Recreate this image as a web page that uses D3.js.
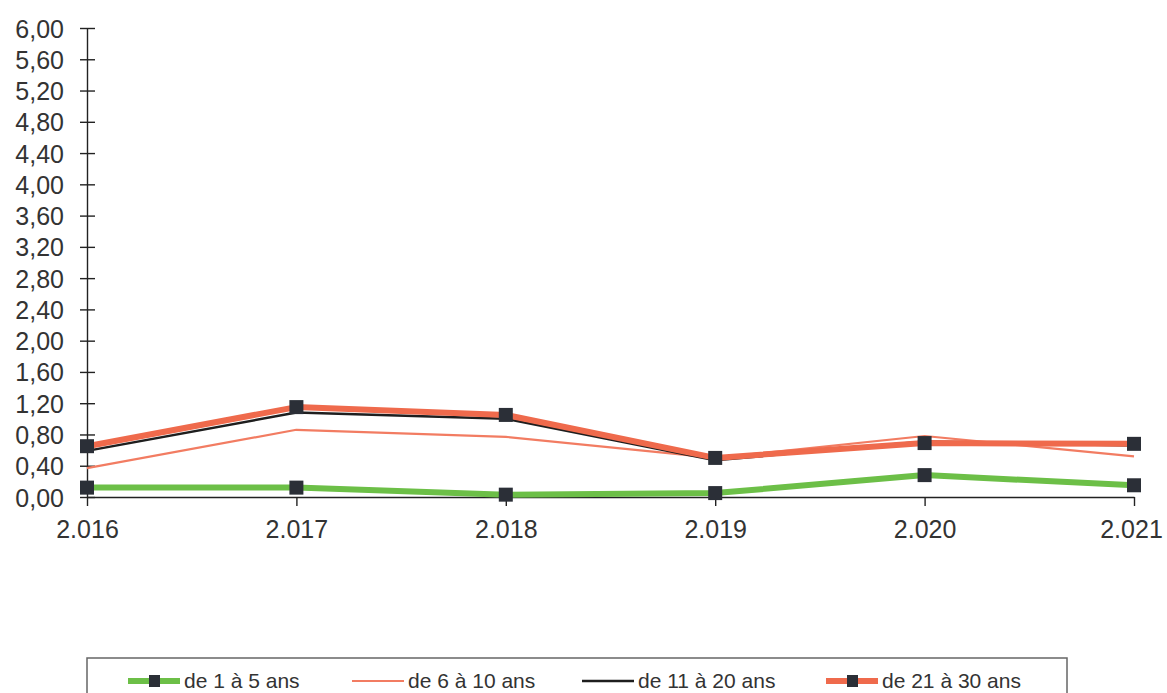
<!DOCTYPE html>
<html><head><meta charset="utf-8">
<script src="https://cdn.jsdelivr.net/npm/d3@7"></script>
<style>body{margin:0;background:#fff}svg{display:block}text{font-family:"Liberation Sans",Arial,sans-serif;fill:#333}</style>
</head><body><svg id="c" width="1167" height="693"></svg>
<script>
const years = ["2.016","2.017","2.018","2.019","2.020","2.021"];
const yTicks = [0,0.4,0.8,1.2,1.6,2.0,2.4,2.8,3.2,3.6,4.0,4.4,4.8,5.2,5.6,6.0];
const s1to5   = [0.12,0.12,0.03,0.05,0.28,0.15];
const s6to10  = [0.37,0.86,0.77,0.50,0.78,0.52];
const s11to20 = [0.59,1.08,1.00,0.47,0.71,0.66];
const s21to30 = [0.65,1.15,1.05,0.50,0.69,0.68];
const names = ["de 1 à 5 ans","de 6 à 10 ans","de 11 à 20 ans","de 21 à 30 ans"];

const series = [
  {name:names[0], values:s1to5,   color:"#6cbf47", width:6,   marker:true},
  {name:names[1], values:s6to10,  color:"#f27c62", width:2.2, marker:false},
  {name:names[2], values:s11to20, color:"#1e1e1e", width:2.5, marker:false},
  {name:names[3], values:s21to30, color:"#ef6a4c", width:6,   marker:true}
];

const svg = d3.select("#c");
const x = d3.scalePoint().domain(years).range([87,1134]);
const y = d3.scaleLinear().domain([0,6]).range([497,28]);

// y axis
const ya = svg.append("g").attr("transform","translate(87,0)")
  .call(d3.axisLeft(y).tickValues(yTicks).tickSize(7).tickSizeOuter(0)
    .tickFormat(d=>d3.format(".2f")(d).replace(".",",")));
ya.select(".domain").attr("stroke","#222").attr("stroke-width",1.4);
ya.selectAll(".tick line").attr("x2",-7).attr("x1",8).attr("stroke","#222").attr("stroke-width",1.4);
ya.selectAll(".tick text").attr("x",-23).attr("dy","0.36em").style("font-size","25px")
  .style("font-family",'"Liberation Sans",Arial,sans-serif').attr("fill","#333");

// x axis
const xa = svg.append("g").attr("transform","translate(0,497)")
  .call(d3.axisBottom(x).tickSize(9).tickSizeOuter(0));
xa.select(".domain").attr("stroke","#222").attr("stroke-width",1.4);
xa.selectAll(".tick line").attr("stroke","#222").attr("stroke-width",1.4);
xa.selectAll(".tick text").attr("y",41).attr("dy",0).style("font-size","25px")
  .style("font-family",'"Liberation Sans",Arial,sans-serif').attr("fill","#333");
xa.selectAll(".tick").filter((d,i)=>i===5).select("text").attr("text-anchor","middle").attr("dx",-3);

const line = d3.line().x((d,i)=>x(years[i])).y(d=>y(d));
series.forEach(s=>{
  svg.append("path").datum(s.values).attr("d",line).attr("fill","none")
    .attr("stroke",s.color).attr("stroke-width",s.width).attr("stroke-linejoin","round");
});
series.forEach(s=>{
  if(!s.marker) return;
  svg.selectAll(null).data(s.values).enter().append("rect")
    .attr("x",(d,i)=>x(years[i])-7).attr("y",d=>y(d)-7)
    .attr("width",14).attr("height",14).attr("fill","#2b2f37");
});

// legend
const lg = svg.append("g");
lg.append("rect").attr("x",87).attr("y",658).attr("width",980).attr("height",60)
  .attr("fill","none").attr("stroke","#666").attr("stroke-width",1.5);
const lx = [128,352,582,826];
series.forEach((s,i)=>{
  const g = lg.append("g").attr("transform",`translate(${lx[i]},681)`);
  g.append("line").attr("x1",0).attr("x2",52).attr("y1",0).attr("y2",0)
    .attr("stroke",s.color).attr("stroke-width",s.width);
  if(s.marker) g.append("rect").attr("x",21).attr("y",-6).attr("width",11).attr("height",12).attr("fill","#2b2f37");
  g.append("text").attr("x",56).attr("y",7).style("font-size","21px").text(s.name);
});
</script></body></html>
